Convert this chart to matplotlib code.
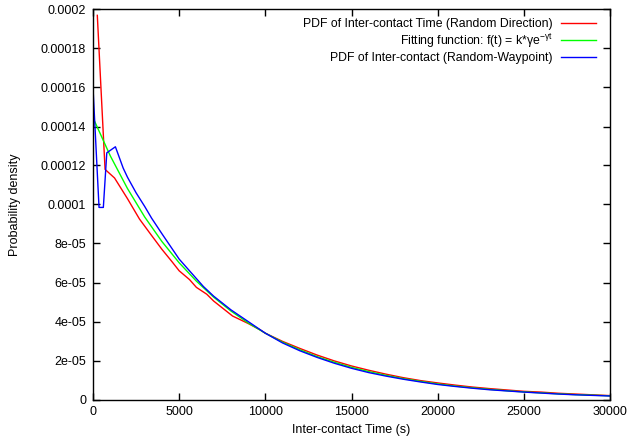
import matplotlib
matplotlib.use("Agg")
import matplotlib.pyplot as plt
from matplotlib.lines import Line2D
from matplotlib.ticker import FixedLocator

plt.rcParams['font.family'] = ['Liberation Sans', 'DejaVu Sans']
plt.rcParams['mathtext.fontset'] = 'custom'
plt.rcParams['mathtext.rm'] = 'Liberation Sans'
plt.rcParams['mathtext.it'] = 'Liberation Sans'

# Random Direction PDF (red)
rd_t = [250, 700, 1250, 2000, 2700, 3300, 4000, 4600, 5000, 5600, 6000, 6600, 7000,
        7500, 8100, 9000, 9700, 10000, 11000, 12000, 13000, 14000, 15000, 16000,
        17000, 18000, 19000, 20000, 21000, 22000, 23000, 24000, 25000, 26000,
        27000, 28000, 29000, 30000]
rd_v = [0.000197, 0.000118, 0.0001136, 0.000103, 0.0000925, 0.0000853, 0.0000770,
        0.0000705, 0.0000660, 0.0000615, 0.0000575, 0.0000540, 0.0000505, 0.0000470,
        0.0000428, 0.0000390, 0.0000357, 0.0000340, 0.0000298, 0.0000262, 0.0000228,
        0.0000198, 0.0000172, 0.0000150, 0.0000130, 0.0000112, 0.0000097, 0.0000085,
        0.0000074, 0.0000064, 0.0000056, 0.0000049, 0.0000042, 0.0000038, 0.0000032,
        0.0000028, 0.0000024, 0.0000020]

# Fitting function (green)
fit_t = [0, 1000, 2000, 3000, 4000, 5000, 6000, 7000, 8000, 9000, 10000, 11000,
         12000, 13000, 14000, 15000, 16000, 17000, 18000, 19000, 20000, 21000,
         22000, 23000, 24000, 25000, 26000, 27000, 28000, 29000, 30000]
fit_v = [0.0001445, 0.0001250, 0.0001082, 0.0000936, 0.0000810, 0.0000701, 0.0000607,
         0.0000525, 0.0000454, 0.0000393, 0.0000340, 0.0000294, 0.0000255, 0.0000220,
         0.0000191, 0.0000165, 0.0000143, 0.0000124, 0.0000107, 0.0000093, 0.0000080,
         0.0000069, 0.0000060, 0.0000052, 0.0000045, 0.0000039, 0.0000034, 0.0000029,
         0.0000025, 0.0000022, 0.0000019]

# Random Waypoint PDF (blue)
rw_t = [0, 350, 600, 800, 1300, 1750, 2000, 2500, 3000, 3400, 4000, 5000, 6000,
        6400, 7000, 8000, 9000, 10000, 11000, 12000, 13000, 14000, 15000, 16000,
        17000, 18000, 19000, 20000, 21000, 22000, 23000, 24000, 25000, 26000,
        27000, 28000, 29000, 30000]
rw_v = [0.000160, 0.0000985, 0.0000985, 0.0001265, 0.0001296, 0.0001187, 0.0001140,
        0.0001060, 0.0000990, 0.0000930, 0.0000850, 0.0000720, 0.0000620, 0.0000580,
        0.0000530, 0.0000460, 0.0000400, 0.0000340, 0.0000290, 0.0000250, 0.0000216,
        0.0000186, 0.0000160, 0.0000138, 0.0000120, 0.0000104, 0.0000090, 0.0000077,
        0.0000067, 0.0000058, 0.0000050, 0.0000044, 0.0000038, 0.0000033, 0.0000028,
        0.0000024, 0.0000021, 0.0000018]

series_labels = ['PDF of Inter-contact Time (Random Direction)',
                 'Fitting function: f(t) = k*γe$^{\\mathregular{-γt}}$',
                 'PDF of Inter-contact (Random-Waypoint)']
series_colors = ['#ff0000', '#00ff00', '#0000ff']

x_ticks = [0, 5000, 10000, 15000, 20000, 25000, 30000]
y_ticks = [0, 0.00002, 0.00004, 0.00006, 0.00008, 0.0001, 0.00012, 0.00014,
           0.00016, 0.00018, 0.0002]
y_tick_labels = ["0", "2e-05", "4e-05", "6e-05", "8e-05", "0.0001", "0.00012",
                 "0.00014", "0.00016", "0.00018", "0.0002"]

W, H = 629, 440
fig = plt.figure(figsize=(W / 100, H / 100), dpi=100)
ax = fig.add_axes([93 / W, 1 - 399.5 / H, (610 - 93) / W, (399.5 - 9.5) / H])

data = [(rd_t, rd_v), (fit_t, fit_v), (rw_t, rw_v)]
for (t, v), c in zip(data, series_colors):
    ax.plot(t, v, color=c, lw=1.0)

ax.set_xlim(0, 30000)
ax.set_ylim(0, 0.0002)
ax.xaxis.set_major_locator(FixedLocator(x_ticks))
ax.yaxis.set_major_locator(FixedLocator(y_ticks))
ax.set_yticklabels(y_tick_labels)
ax.set_xticklabels([str(v) for v in x_ticks])
ax.tick_params(direction='in', length=5, width=1, top=True, right=True,
               labelsize=9, pad=5, colors='black')
for s in ax.spines.values():
    s.set_linewidth(1.0)

ax.set_xlabel('Inter-contact Time (s)', fontsize=9, labelpad=4)
ax.set_ylabel('Probability density', fontsize=9, labelpad=14)

# gnuplot-style key: right-aligned text, sample line on the right
row_y = [23.5, 40.5, 57.5]
for lab, c, yy in zip(series_labels, series_colors, row_y):
    fig.text(553 / W, 1 - yy / H, lab, ha='right', va='center', fontsize=8.8)
    fig.add_artist(Line2D([561 / W, 596 / W], [1 - yy / H, 1 - yy / H],
                          color=c, lw=1.0, transform=fig.transFigure))

fig.savefig('out.png', dpi=100)
